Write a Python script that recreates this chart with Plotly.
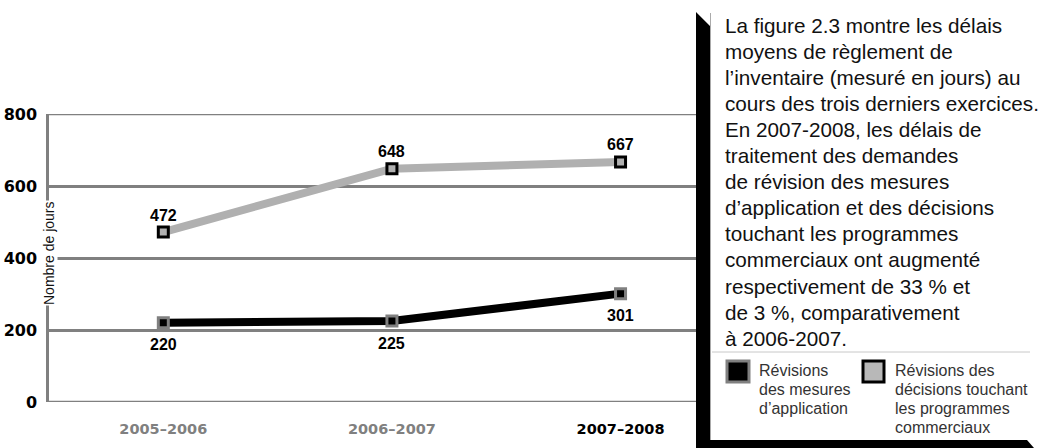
import plotly.graph_objects as go

# ---- data ----
categories = ["2005–2006", "2006–2007", "2007–2008"]
tick_colors = ["#808080", "#808080", "#000000"]
series_names = ["Révisions des mesures d’application",
                "Révisions des décisions touchant les programmes commerciaux"]
mesures_application = [220, 225, 301]
programmes_commerciaux = [472, 648, 667]
y_ticks = [0, 200, 400, 600, 800]

text_lines = [
    "La figure 2.3 montre les délais",
    "moyens de règlement de",
    "l’inventaire (mesuré en jours) au",
    "cours des trois derniers exercices.",
    "En 2007-2008, les délais de",
    "traitement des demandes",
    "de révision des mesures",
    "d’application et des décisions",
    "touchant les programmes",
    "commerciaux ont augmenté",
    "respectivement de 33 % et",
    "de 3 %, comparativement",
    "à 2006-2007.",
]
legend_lines_1 = ["Révisions", "des mesures", "d’application"]
legend_lines_2 = ["Révisions des", "décisions touchant", "les programmes", "commerciaux"]

# ---- layout geometry (pixels) ----
W, H = 1039, 448
L, R, T, B = 49, 343, 114, 46
PW, PH = W - L - R, H - T - B


def X(px):
    return (px - L) / PW


def Y(py):
    return (H - B - py) / PH


fig = go.Figure()

fig.add_trace(go.Scatter(
    x=categories, y=programmes_commerciaux, mode="lines+markers",
    name=series_names[1],
    line=dict(color="#b0b0b0", width=8),
    marker=dict(symbol="square", size=10, color="#b0b0b0",
                line=dict(color="#000000", width=3)),
    showlegend=False, cliponaxis=False,
))
fig.add_trace(go.Scatter(
    x=categories, y=mesures_application, mode="lines+markers",
    name=series_names[0],
    line=dict(color="#000000", width=8),
    marker=dict(symbol="square", size=10, color="#000000",
                line=dict(color="#808080", width=3)),
    showlegend=False, cliponaxis=False,
))

label_font = dict(family="Liberation Sans", size=16, color="#000")
annotations = []
for c, v in zip(categories, programmes_commerciaux):
    annotations.append(dict(x=c, y=v, xref="x", yref="y", text=f"<b>{v}</b>",
                            showarrow=False, yshift=17, font=label_font))
for c, v in zip(categories, mesures_application):
    annotations.append(dict(x=c, y=v, xref="x", yref="y", text=f"<b>{v}</b>",
                            showarrow=False, yshift=-22, font=label_font))

# y-axis title with white background over the axis line
annotations.append(dict(x=0, y=Y(253), xref="paper", yref="paper",
                        xanchor="center", yanchor="middle",
                        text="Nombre de jours", textangle=-90, showarrow=False,
                        bgcolor="white", borderpad=0,
                        font=dict(family="Liberation Sans", size=14, color="#111")))

# right-hand text block
for i, line in enumerate(text_lines):
    annotations.append(dict(x=X(723), y=Y(25 + i * 26.1), xref="paper", yref="paper",
                            xanchor="left", yanchor="middle", text=line,
                            showarrow=False,
                            font=dict(family="Liberation Sans", size=20.7, color="#111")))

legend_font = dict(family="Liberation Sans", size=16, color="#333")
for i, line in enumerate(legend_lines_1):
    annotations.append(dict(x=X(757), y=Y(370 + i * 19.3), xref="paper", yref="paper",
                            xanchor="left", yanchor="middle", text=line,
                            showarrow=False, font=legend_font))
for i, line in enumerate(legend_lines_2):
    annotations.append(dict(x=X(893), y=Y(370 + i * 19.3), xref="paper", yref="paper",
                            xanchor="left", yanchor="middle", text=line,
                            showarrow=False, font=legend_font))

shapes = []
# gridlines at the ends of the value axis (plotly skips them at the edges)
for v in (y_ticks[0], y_ticks[-1]):
    shapes.append(dict(type="line", xref="paper", yref="y", x0=0, x1=1, y0=v, y1=v,
                       line=dict(color="#808080", width=2.5), layer="below"))

shapes += [
    # drop shadow of the text box
    dict(type="path", xref="paper", yref="paper",
         path=(f"M {X(696)},{Y(12)} L {X(710)},{Y(26)} L {X(710)},{Y(440)} "
               f"L {X(1027)},{Y(440)} L {X(1034)},{Y(448)} L {X(696)},{Y(448)} Z"),
         fillcolor="#000", line=dict(width=0), layer="above"),
    # text box
    dict(type="rect", xref="paper", yref="paper",
         x0=X(710), x1=X(1045), y0=Y(440), y1=Y(12),
         fillcolor="white", line=dict(width=0), layer="above"),
    dict(type="line", xref="paper", yref="paper",
         x0=X(710.5), x1=X(710.5), y0=Y(440), y1=Y(13),
         line=dict(color="#aaaaaa", width=1), layer="above"),
    # legend separator
    dict(type="line", xref="paper", yref="paper",
         x0=X(712), x1=X(1030), y0=Y(352), y1=Y(352),
         line=dict(color="#c8c8c8", width=1), layer="above"),
    # legend swatches
    dict(type="rect", xref="paper", yref="paper",
         x0=X(727), x1=X(749), y0=Y(382), y1=Y(361),
         fillcolor="#000", line=dict(color="#808080", width=3), layer="above"),
    dict(type="rect", xref="paper", yref="paper",
         x0=X(863), x1=X(884), y0=Y(382), y1=Y(361),
         fillcolor="#b8b8b8", line=dict(color="#000", width=3), layer="above"),
]

ticktext = [f"<span style='color:{col}'><b>{c}</b></span>"
            for c, col in zip(categories, tick_colors)]

fig.update_layout(
    width=W, height=H,
    margin=dict(l=L, r=R, t=T, b=B, pad=0, autoexpand=False),
    paper_bgcolor="white", plot_bgcolor="white",
    showlegend=False,
    xaxis=dict(type="category", range=[-0.5, 2.33], automargin=False,
               tickvals=categories, ticktext=ticktext,
               showgrid=False, zeroline=False, showline=False,
               ticks="", ticklabelstandoff=16,
               tickfont=dict(family="DejaVu Sans", size=14.5)),
    yaxis=dict(range=[0, 800], automargin=False, tickvals=y_ticks,
               ticktext=[f"<b>{v}</b>" for v in y_ticks],
               showgrid=True, gridcolor="#808080", gridwidth=2.5,
               zeroline=False, showline=True, linecolor="#808080", linewidth=2.5,
               ticks="", ticklabelstandoff=6,
               tickfont=dict(family="DejaVu Sans", size=16, color="#000")),
    annotations=annotations,
    shapes=shapes,
)

fig.write_html("out.html")
